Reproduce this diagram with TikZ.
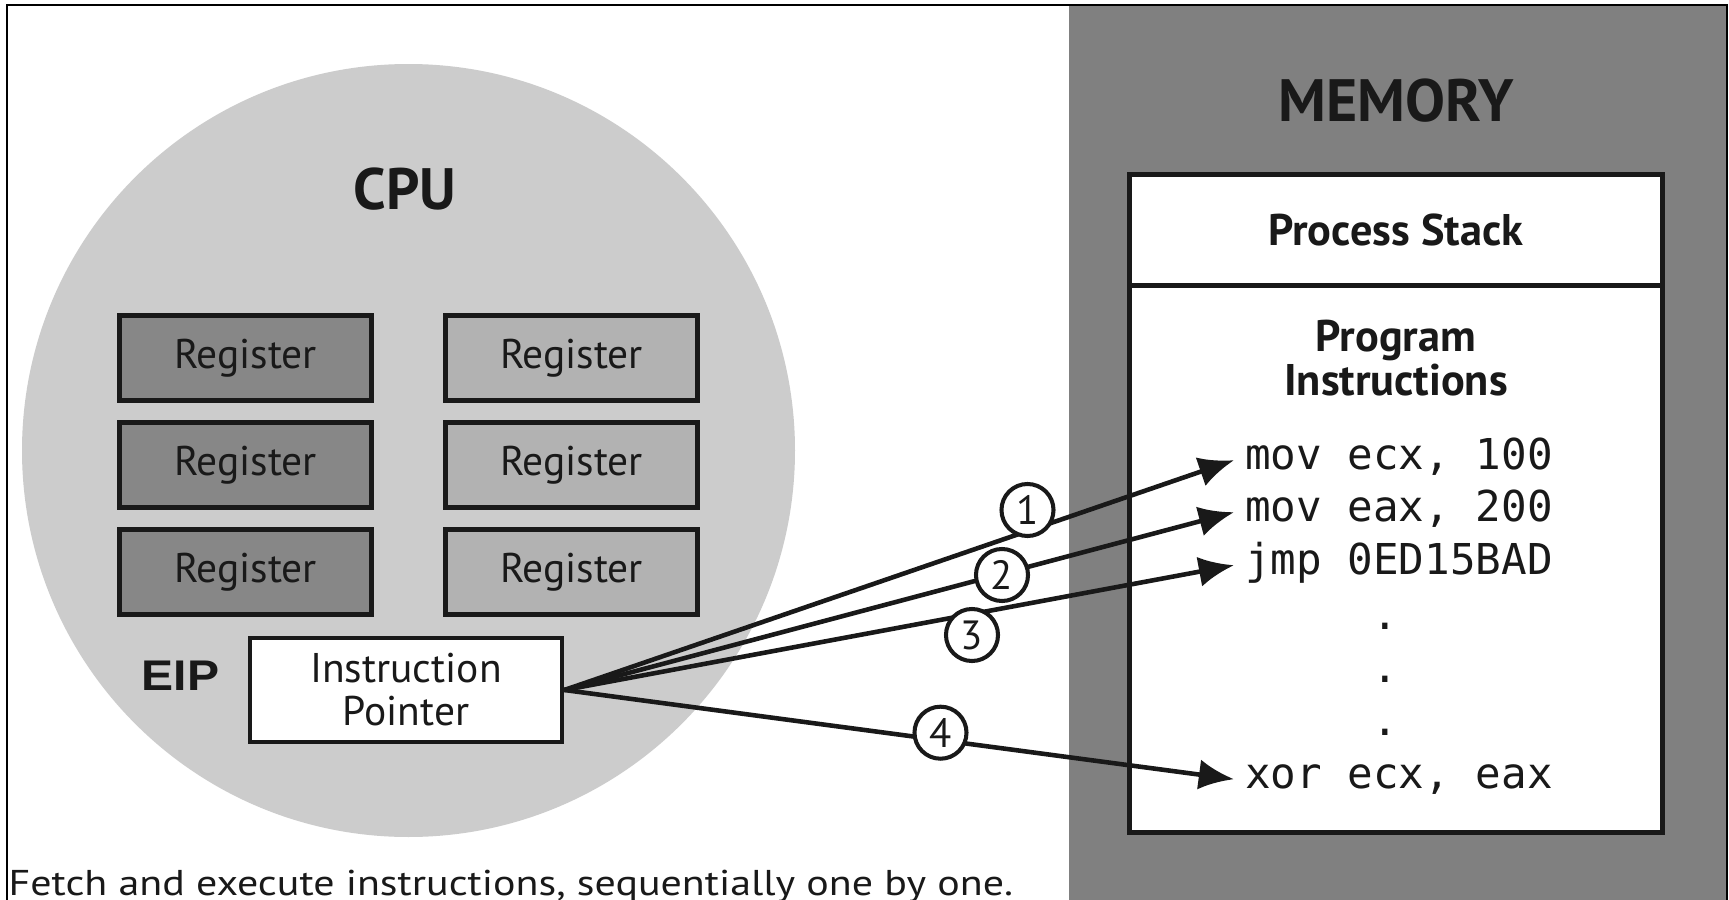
\documentclass[tikz,border=0pt]{standalone}
\usepackage{fontspec}
\setmainfont{PT Sans}
\setmonofont{DejaVu Sans Mono}[RawFeature=+zero]
\newfontfamily\eipfont{Liberation Sans}[FakeStretch=1.12]
\newfontfamily\notefont{PT Sans}[FakeStretch=1.17]
\usetikzlibrary{arrows.meta}

\begin{document}
\begin{tikzpicture}[x=0.01cm, y=-0.01cm, >={Latex[length=10pt, width=8.6pt]}, every node/.style={text=black!90}, reg/.style={draw=black!90, line width=1.3pt, minimum width=2.52cm, minimum height=0.85cm, inner sep=0pt, font=\fontsize{11.8}{12.2}\selectfont}, head/.style={font=\fontsize{17}{20}\selectfont\bfseries, anchor=base, inner sep=0pt}, sub/.style={font=\fontsize{12.6}{14}\selectfont\bfseries, anchor=base, inner sep=0pt}, code/.style={font=\fontsize{12.1}{14}\selectfont\ttfamily, anchor=base west, inner xsep=3pt, inner ysep=0pt}, num/.style={draw=black!90, circle, line width=1.15pt, fill=white, minimum size=0.52cm, inner sep=0pt, font=\fontsize{11.6}{12}\selectfont}, arr/.style={->, line width=1.3pt, draw=black!90}]
	\useasboundingbox (0,0) rectangle (1729,900);
	\clip (0,0) rectangle (1729,900);
	\fill[white] (0,0) rectangle (1729,900);
	\fill[black!50] (1069,5) rectangle (1727,905);
	\draw[line width=0.7pt] (7,905) -- (7,5) -- (1727,5) -- (1727,905);
	% cpu side
	\fill[black!20] (408.5,450.5) circle (386.5);
	\node[head, font=\fontsize{16.6}{20}\selectfont\bfseries] (cpu) at (405,209) {CPU};
	\foreach \r/\y in {1/358, 2/465, 3/572} {\node[reg, fill=black!47] (l\r) at (245.5,\y) {Register}; \node[reg, fill=black!30] (r\r) at (571.5,\y) {Register};}
	\node[reg, fill=white, minimum width=3.12cm, minimum height=1.04cm, align=center] (ip) at (406,690) {Instruction\\Pointer};
	\node[anchor=base, inner sep=0pt, font=\eipfont\fontsize{12.2}{13}\selectfont\bfseries] (eip) at (180.5,690) {EIP};
	% memory side
	\node[head] (mem) at (1396,121) {MEMORY};
	\draw[line width=1.42pt, draw=black!90, fill=white] (1129.5,285) rectangle (1662,832);
	\node[draw=black!90, line width=1.42pt, fill=white, minimum width=5.325cm, minimum height=1.10cm, inner sep=0pt, font=\fontsize{12.6}{14}\selectfont\bfseries] (stack) at (1395.75,230) {Process Stack};
	\node[sub] (prog1) at (1396,351) {Program};
	\node[sub] (prog2) at (1396,395) {Instructions};
	\foreach \n/\y/\t in {c1/469/{mov ecx, 100}, c2/521/{mov eax, 200}, c3/574/{jmp 0ED15BAD}, c4/788/{xor ecx, eax}} {\node[code] (\n) at (1234,\y) {\t};}
	\foreach \n/\y in {d1/629, d2/682, d3/735} {\node[code, anchor=base, inner sep=0pt] (\n) at (1385.6,\y) {.};}
	% fetch order
	\foreach \n in {1,...,4} {\draw[arr] (ip.east) -- (c\n.mid west);}
	\node[num] (n1) at (1027.5,510) {1};
	\node[num] (n2) at (1002,575) {2};
	\node[num] (n3) at (972,635) {3};
	\node[num] (n4) at (940.5,732.7) {4};
	\node[anchor=base west, inner sep=0pt, font=\notefont\fontsize{10.2}{12}\selectfont] (note) at (8,895) {Fetch and execute instructions, sequentially one by one.};
\end{tikzpicture}
\end{document}
